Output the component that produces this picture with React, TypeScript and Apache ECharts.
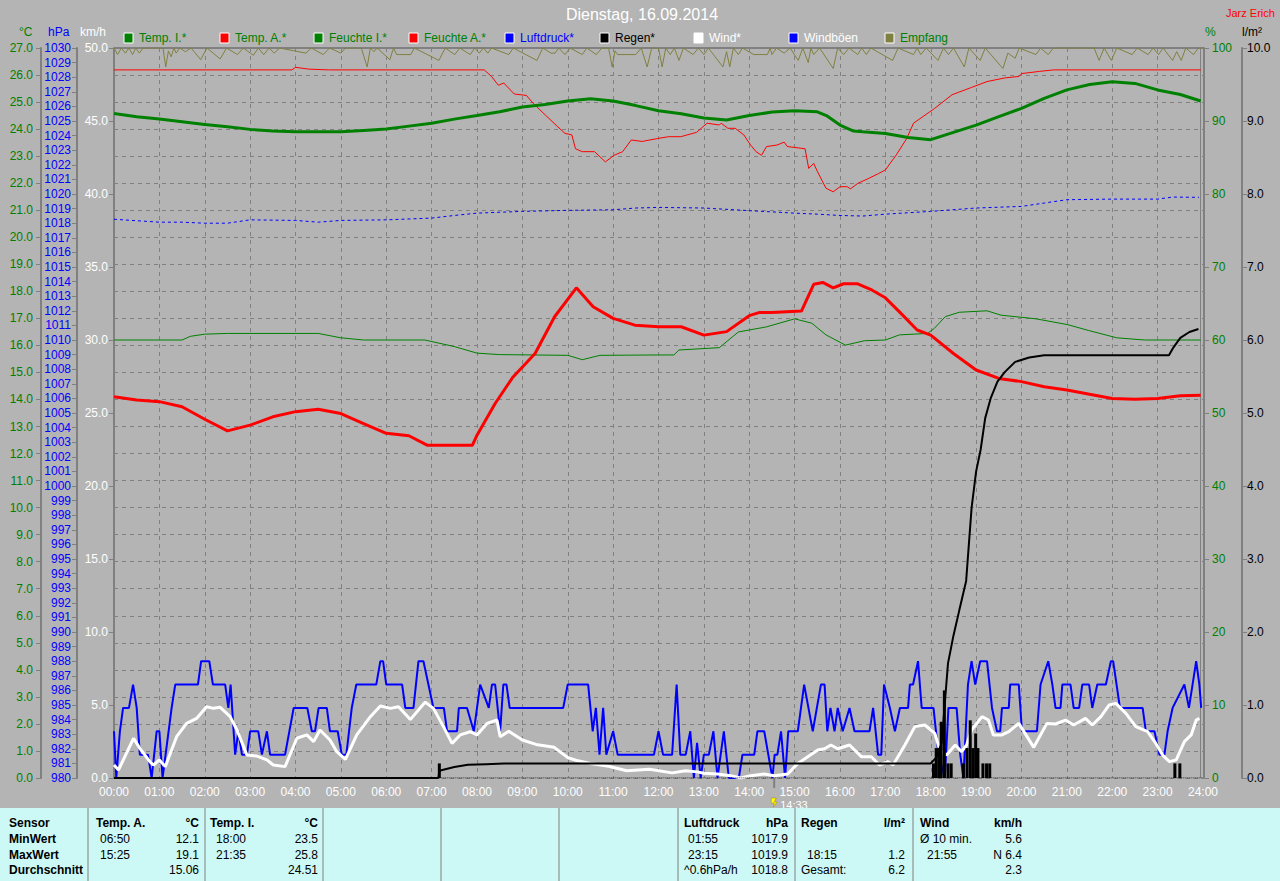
import React, { useEffect, useRef } from "react";
import * as echarts from "echarts";

// ---------- DATA ----------
const hourLabels = [
  "00:00", "01:00", "02:00", "03:00", "04:00", "05:00", "06:00", "07:00", "08:00",
  "09:00", "10:00", "11:00", "12:00", "13:00", "14:00", "15:00", "16:00", "17:00",
  "18:00", "19:00", "20:00", "21:00", "22:00", "23:00", "24:00",
];

const legendNames = ["Temp. I.*", "Temp. A.*", "Feuchte I.*", "Feuchte A.*", "Luftdruck*", "Regen*", "Wind*", "Windböen", "Empfang"];

// Temp. I. (°C)
const tempInnen: number[][] = [
  [0, 24.58], [0.5, 24.46], [1, 24.37], [1.5, 24.27], [2, 24.17], [2.5, 24.09], [3, 23.99], [3.5, 23.93],
  [4, 23.9], [5, 23.9], [5.5, 23.95], [6, 24.0], [6.5, 24.11], [7, 24.22], [7.5, 24.37], [8, 24.5],
  [8.5, 24.64], [9, 24.82], [9.5, 24.91], [10, 25.04], [10.5, 25.12], [11, 25.04], [11.5, 24.87], [12, 24.68],
  [12.5, 24.57], [13, 24.41], [13.5, 24.34], [14, 24.5], [14.5, 24.63], [15, 24.68], [15.5, 24.64],
  [15.7, 24.5], [16, 24.15], [16.3, 23.93], [16.5, 23.9], [17, 23.84], [17.5, 23.69], [18, 23.61],
  [18.5, 23.88], [19, 24.15], [19.5, 24.46], [20, 24.77], [20.5, 25.14], [21, 25.45], [21.5, 25.65],
  [22, 25.75], [22.5, 25.69], [23, 25.45], [23.5, 25.28], [23.95, 25.04],
];

// Temp. A. (°C)
const tempAussen: number[][] = [
  [0, 14.1], [0.5, 13.98], [1, 13.92], [1.5, 13.73], [2, 13.27], [2.5, 12.84], [3, 13.05], [3.5, 13.36],
  [4, 13.55], [4.5, 13.64], [5, 13.48], [5.5, 13.11], [6, 12.75], [6.5, 12.66], [6.9, 12.31], [7.5, 12.31],
  [7.9, 12.31], [8.0, 12.68], [8.4, 13.85], [8.78, 14.8], [9.28, 15.7], [9.71, 17.06], [10.19, 18.13],
  [10.56, 17.43], [11.0, 17.0], [11.48, 16.75], [12.0, 16.69], [12.5, 16.69], [13.0, 16.38], [13.5, 16.51],
  [14.0, 17.1], [14.23, 17.22], [14.5, 17.22], [15.15, 17.27], [15.42, 18.26], [15.62, 18.33], [15.85, 18.13],
  [16.08, 18.28], [16.39, 18.28], [16.7, 18.05], [17.0, 17.76], [17.31, 17.24], [17.7, 16.57], [18.0, 16.38],
  [18.5, 15.7], [19.0, 15.09], [19.5, 14.78], [20, 14.66], [20.5, 14.47], [21, 14.35], [21.5, 14.19],
  [22, 14.04], [22.5, 14.01], [23, 14.04], [23.5, 14.14], [23.95, 14.16],
];

// Feuchte I. (%)
const feuchteInnen: number[][] = [
  [0, 60.0], [1.5, 60.0], [1.68, 60.5], [2, 60.8], [2.5, 60.9], [4.5, 60.9], [5, 60.3], [5.5, 60.0],
  [6.85, 60.0], [7.5, 59.1], [8, 58.2], [8.5, 58.0], [10, 57.9], [10.32, 57.3], [10.71, 57.9], [11.98, 57.95],
  [12.34, 57.95], [12.45, 58.63], [13.34, 58.95], [13.76, 61.1], [14.38, 61.8], [15.0, 62.9], [15.38, 62.3],
  [15.69, 60.7], [16.12, 59.3], [16.54, 59.9], [17.0, 60.0], [17.31, 60.7], [17.93, 60.9], [18.08, 61.6],
  [18.32, 63.2], [18.63, 63.8], [19.24, 64.0], [19.55, 63.4], [20.32, 62.9], [21.02, 62.1], [21.48, 61.3],
  [22.1, 60.3], [22.71, 60.0], [23.95, 60.0],
];

// Feuchte A. (%)
const feuchteAussen: number[][] = [
  [0, 97.0], [3.92, 97.0], [4.0, 97.35], [4.3, 97.1], [4.73, 97.0], [8.16, 97.0], [8.32, 96.1], [8.47, 94.9],
  [8.59, 95.2], [8.82, 93.7], [9.09, 93.5], [9.24, 92.4], [9.51, 90.8], [9.78, 89.2], [9.94, 88.3],
  [10.09, 88.1], [10.17, 86.2], [10.32, 85.8], [10.59, 85.8], [10.83, 84.4], [11.02, 85.3], [11.21, 85.8],
  [11.4, 87.4], [11.64, 87.2], [11.98, 87.6], [12.22, 87.85], [12.49, 87.85], [12.84, 88.45], [13.07, 89.7],
  [13.34, 89.45], [13.38, 89.7], [13.53, 89.0], [13.69, 89.0], [13.88, 88.1], [14.03, 86.7], [14.15, 85.8],
  [14.27, 85.3], [14.38, 86.5], [14.61, 86.7], [14.77, 87.1], [14.84, 86.5], [15.23, 86.2], [15.31, 83.5],
  [15.42, 84.2], [15.5, 83.1], [15.69, 80.8], [15.85, 80.3], [16.0, 81.0], [16.16, 81.0], [16.23, 80.7],
  [16.39, 81.45], [16.62, 82.1], [16.85, 82.8], [17.0, 83.3], [17.24, 85.35], [17.47, 87.6], [17.62, 89.7],
  [18.08, 91.7], [18.47, 93.6], [18.9, 94.6], [19.24, 95.4], [19.63, 95.9], [19.94, 96.1], [20.01, 96.5],
  [20.4, 96.8], [20.71, 97.0], [23.95, 97.0],
];

// Luftdruck (hPa)
const luftdruck: number[][] = [
  [0, 1018.27], [1, 1018.07], [1.5, 1018.07], [2, 1018.0], [2.5, 1018.0], [3, 1018.23], [4, 1018.19],
  [4.5, 1018.07], [5, 1018.19], [6, 1018.23], [7, 1018.35], [7.5, 1018.53], [8, 1018.69], [9, 1018.81],
  [10, 1018.88], [11, 1018.92], [11.5, 1019.04], [12, 1019.08], [13, 1019.04], [14, 1018.86], [15, 1018.69],
  [15.5, 1018.62], [16, 1018.53], [16.5, 1018.49], [17, 1018.62], [18, 1018.81], [19, 1019.04], [20, 1019.15],
  [20.5, 1019.38], [21, 1019.61], [22, 1019.65], [23, 1019.65], [23.33, 1019.79], [23.91, 1019.77],
];

// Regen cumulative (l/m²)
const regenSumme: number[][] = [
  [0, 0], [7.15, 0], [7.17, 0.1], [7.3, 0.12], [7.5, 0.15], [7.8, 0.18], [8.2, 0.19], [8.6, 0.2], [18.0, 0.2],
  [18.12, 0.28], [18.24, 0.48], [18.38, 1.57], [18.5, 1.95], [18.63, 2.3], [18.78, 2.7], [18.9, 3.7],
  [19.0, 4.2], [19.1, 4.5], [19.2, 4.93], [19.32, 5.2], [19.47, 5.43], [19.63, 5.56], [19.86, 5.7],
  [20.17, 5.76], [20.5, 5.79], [23.25, 5.79], [23.35, 5.9], [23.5, 6.03], [23.7, 6.11], [23.9, 6.15],
];
const regenNull: number[][] = [[7.17, 0], [24, 0]];

// Regen bars (l/m²)
const regenBalken: number[][] = [
  [7.17, 0.2],
  [18.06, 0.2], [18.12, 0.41], [18.18, 0.41], [18.23, 0.77], [18.3, 1.2], [18.38, 0.2], [18.45, 0.2],
  [18.72, 0.2], [18.8, 0.41], [18.87, 0.79], [18.93, 0.41], [18.99, 0.61], [19.04, 0.41], [19.15, 0.2],
  [19.23, 0.2], [19.3, 0.2], [23.38, 0.2], [23.49, 0.2],
];

// Wind (km/h)
const wind: number[][] = [
  [0, 0.89], [0.1, 0.55], [0.43, 2.72], [0.57, 2.03], [0.79, 1.12], [0.87, 0.89], [1.0, 1.24], [1.13, 0.78],
  [1.38, 2.83], [1.6, 3.74], [1.82, 4.08], [2.04, 4.88], [2.19, 4.77], [2.34, 4.84], [2.56, 4.2], [2.71, 3.29],
  [2.93, 1.57], [3.15, 1.5], [3.37, 1.24], [3.51, 0.89], [3.77, 0.78], [4.03, 2.72], [4.25, 2.95], [4.4, 2.49],
  [4.54, 3.29], [4.76, 2.6], [4.91, 1.8], [5.1, 1.28], [5.35, 2.95], [5.65, 4.2], [5.87, 4.93], [6.09, 4.77],
  [6.27, 4.88], [6.53, 4.0], [6.86, 5.2], [7.04, 4.77], [7.26, 3.52], [7.45, 2.37], [7.63, 2.95], [7.85, 3.17],
  [8.0, 2.95], [8.22, 3.74], [8.44, 3.97], [8.51, 2.83], [8.7, 3.2], [9.0, 2.6], [9.3, 2.3], [9.7, 2.1],
  [10.0, 1.4], [10.2, 1.2], [10.5, 1.0], [10.9, 0.8], [11.3, 0.5], [11.8, 0.6], [12.3, 0.35], [12.6, 0.5],
  [12.85, 0.42], [13.0, 0.32], [13.3, 0.27], [13.59, 0.16], [13.81, 0.0], [14.03, 0.16], [14.33, 0.27],
  [14.55, 0.16], [14.85, 0.27], [15.07, 1.0], [15.29, 1.46], [15.51, 1.92], [15.66, 2.0], [15.8, 2.26],
  [15.95, 2.0], [16.21, 2.26], [16.47, 1.46], [16.69, 1.46], [16.87, 0.89], [17.06, 1.12], [17.17, 0.89],
  [17.43, 2.26], [17.65, 3.52], [17.87, 3.63], [18.09, 3.06], [18.2, 1.92], [18.35, 1.57], [18.54, 2.26],
  [18.68, 1.8], [18.79, 2.26], [18.9, 3.29], [19.13, 4.2], [19.27, 3.97], [19.38, 2.95], [19.57, 2.95],
  [19.72, 3.17], [19.94, 3.74], [20.27, 2.1], [20.56, 3.74], [20.75, 3.7], [20.97, 3.97], [21.15, 3.63],
  [21.41, 4.08], [21.56, 3.63], [21.75, 4.2], [21.93, 5.0], [22.08, 5.11], [22.3, 4.43], [22.52, 3.52],
  [22.78, 3.17], [22.96, 2.37], [23.11, 1.57], [23.26, 1.12], [23.41, 1.24], [23.59, 2.49], [23.74, 2.95],
  [23.85, 3.97], [23.92, 4.08],
];

// Windböen (km/h)
const windBoeen: number[][] = [
  [0, 3.2], [0.05, 0], [0.13, 3.2], [0.2, 4.8], [0.33, 4.8], [0.42, 6.4], [0.5, 4.8], [0.57, 1.6], [0.75, 1.6],
  [0.83, 0], [0.94, 3.2], [1.0, 3.2], [1.07, 0], [1.27, 4.8], [1.35, 6.4], [1.85, 6.4], [1.92, 8.0], [2.1, 8.0],
  [2.18, 6.4], [2.45, 6.4], [2.52, 4.8], [2.57, 6.4], [2.67, 1.6], [2.74, 3.2], [2.82, 1.6], [2.93, 1.6],
  [3.0, 3.2], [3.18, 3.2], [3.26, 1.6], [3.37, 3.2], [3.44, 1.6], [3.77, 1.6], [3.96, 4.8], [4.26, 4.8],
  [4.36, 3.2], [4.43, 3.2], [4.51, 4.8], [4.69, 4.8], [4.76, 3.2], [4.93, 3.2], [5.02, 1.6], [5.12, 1.6],
  [5.24, 4.8], [5.34, 6.4], [5.78, 6.4], [5.87, 8.0], [5.93, 8.0], [6.0, 6.4], [6.35, 6.4], [6.42, 4.8],
  [6.6, 4.8], [6.71, 8.0], [6.82, 8.0], [7.04, 4.8], [7.27, 4.8], [7.34, 3.2], [7.56, 3.2], [7.6, 4.8],
  [7.78, 4.8], [7.93, 3.2], [8.07, 6.4], [8.26, 4.8], [8.33, 6.4], [8.4, 6.4], [8.51, 3.2],
  [8.58, 6.4], [8.65, 6.4], [8.72, 4.8], [9.9, 4.8], [10.0, 6.4], [10.45, 6.4], [10.55, 3.2], [10.62, 4.8],
  [10.7, 1.6], [10.78, 4.8], [10.85, 1.6], [11.0, 3.2], [11.1, 1.6], [11.9, 1.6], [12.0, 3.2], [12.1, 1.6],
  [12.3, 1.6], [12.4, 6.4], [12.48, 1.6], [12.6, 1.6], [12.7, 3.2], [12.78, 0], [12.85, 2.4], [12.93, 0],
  [13.0, 1.6], [13.11, 1.6],
  [13.21, 3.2], [13.3, 0], [13.44, 3.2], [13.55, 0], [13.77, 0], [13.85, 1.6], [14.11, 1.6], [14.18, 3.2],
  [14.33, 3.2], [14.51, 0], [14.56, 1.6], [14.62, 1.6], [14.7, 3.2], [14.79, 0], [14.86, 3.2], [15.07, 3.2],
  [15.21, 6.4], [15.4, 3.2], [15.58, 6.4], [15.66, 6.4], [15.72, 3.2], [15.79, 4.8], [15.88, 3.2],
  [15.95, 4.8], [16.06, 3.2], [16.21, 4.8], [16.32, 3.2], [16.65, 3.2], [16.73, 4.8], [16.84, 1.6],
  [16.91, 1.6], [16.97, 6.4], [17.1, 4.8], [17.21, 3.2], [17.32, 4.8], [17.5, 4.8], [17.54, 6.4],
  [17.61, 6.4], [17.72, 8.0], [17.8, 4.8], [18.06, 4.8], [18.17, 1.6], [18.31, 0], [18.39, 4.8],
  [18.57, 4.8], [18.65, 1.6], [18.72, 0], [18.82, 6.4], [18.9, 8.0], [18.98, 6.4], [19.09, 8.0],
  [19.24, 8.0], [19.35, 4.8], [19.46, 3.2], [19.53, 3.2], [19.57, 4.8], [19.72, 4.8], [19.75, 6.4],
  [19.94, 6.4], [20.01, 3.2], [20.34, 3.2], [20.42, 6.4], [20.59, 8.0], [20.68, 6.4], [20.75, 4.8],
  [20.86, 4.8], [20.9, 6.4], [21.08, 6.4], [21.15, 4.8], [21.27, 4.8], [21.34, 6.4], [21.49, 6.4],
  [21.56, 4.8], [21.67, 6.4], [21.86, 6.4], [21.97, 8.0], [22.02, 8.0], [22.17, 4.8], [22.67, 4.8],
  [22.74, 3.2], [22.93, 3.2], [23.04, 1.6], [23.15, 1.6], [23.22, 3.2], [23.33, 4.8], [23.59, 6.4],
  [23.69, 4.8], [23.77, 6.4], [23.85, 8.0], [23.92, 6.4], [23.96, 4.8],
];

// Empfang (%)
const empfang: number[][] = [
  [0, 100], [0.08, 99.1], [0.16, 100], [0.25, 99.3], [0.33, 100], [0.41, 99.1], [0.48, 100], [0.56, 99.3],
  [0.64, 100], [1.08, 100], [1.14, 97.4], [1.2, 99.6], [1.26, 98.8], [1.32, 100], [1.37, 99.3], [1.45, 100],
  [1.57, 99.5], [1.7, 100], [1.91, 98.4], [2.05, 100], [2.34, 98.5], [2.48, 100], [2.72, 99.1], [2.85, 100],
  [3.07, 99.0], [3.18, 100], [3.3, 99.1], [3.42, 100], [3.53, 99.3], [3.65, 100], [4.23, 99.3], [4.35, 100],
  [4.61, 99.1], [4.75, 100], [5.0, 99.3], [5.1, 100], [5.45, 100], [5.58, 97.4], [5.65, 100], [5.73, 99.5],
  [5.8, 100], [6.08, 98.4], [6.16, 100], [6.23, 99.1], [6.3, 99.1], [6.45, 99.1], [6.54, 99.1], [6.62, 100],
  [7.16, 98.3], [7.3, 100], [7.51, 99.1], [7.62, 100], [7.85, 99.1], [7.95, 100], [8.05, 99.3], [8.14, 100],
  [8.24, 99.3], [8.32, 100], [8.7, 99.1], [8.8, 100], [9.32, 98.3], [9.45, 100], [9.63, 99.3], [9.72, 99.3],
  [9.8, 100], [9.94, 99.1], [10.05, 100], [10.32, 99.1], [10.42, 100], [10.63, 99.1], [10.75, 100],
  [10.9, 100], [10.98, 97.4], [11.04, 99.6], [11.1, 99.1], [11.5, 99.1], [11.62, 100], [11.75, 97.4],
  [11.85, 100], [12.0, 100], [12.08, 97.4], [12.16, 100], [12.26, 99.1], [12.35, 100], [12.45, 98.3],
  [12.55, 100], [12.76, 99.1], [12.88, 100], [13.0, 99.1], [13.1, 100], [13.42, 97.4], [13.5, 99.5],
  [13.57, 97.4], [13.65, 100], [13.76, 99.1], [13.85, 100], [14.1, 99.1], [14.4, 99.1], [14.46, 100],
  [14.5, 99.1], [14.6, 100], [14.77, 99.3], [14.9, 100], [15.08, 98.3], [15.18, 100], [15.3, 98.0],
  [15.36, 100], [15.42, 99.1], [15.55, 100], [15.85, 97.2], [15.95, 100], [16.08, 99.1], [16.2, 100],
  [16.39, 99.1], [16.48, 100], [16.58, 99.1], [16.68, 100], [17.16, 98.3], [17.28, 100], [17.62, 99.1],
  [17.7, 100], [17.78, 99.1], [17.9, 100], [18.16, 98.3], [18.28, 100], [18.39, 99.1], [18.5, 100],
  [18.74, 97.4], [18.84, 100], [19.09, 98.3], [19.2, 100], [19.59, 97.2], [19.7, 99.3], [19.86, 98.6],
  [19.95, 100], [20.32, 99.1], [20.42, 100], [20.59, 99.1], [20.7, 100], [21.6, 100], [21.71, 98.3],
  [21.82, 100], [21.98, 98.3], [22.1, 100], [22.44, 99.1], [22.55, 100], [22.79, 99.1], [22.9, 100],
  [23.02, 99.1], [23.12, 100], [23.33, 98.3], [23.42, 99.5], [23.52, 98.3], [23.62, 100], [23.79, 99.1],
  [23.9, 100], [24, 100],
];

// Table content
const sensorLabels = ["Sensor", "MinWert", "MaxWert", "Durchschnitt"];
const tableColumns = [
  { header: ["Temp. A.", "°C"], rows: [["06:50", "12.1"], ["15:25", "19.1"], ["", "15.06"]] },
  { header: ["Temp. I.", "°C"], rows: [["18:00", "23.5"], ["21:35", "25.8"], ["", "24.51"]] },
  { header: ["Luftdruck", "hPa"], rows: [["01:55", "1017.9"], ["23:15", "1019.9"], ["^0.6hPa/h", "1018.8"]] },
  { header: ["Regen", "l/m²"], rows: [["", ""], ["18:15", "1.2"], ["Gesamt:", "6.2"]] },
  { header: ["Wind", "km/h"], rows: [["Ø 10 min.", "5.6"], ["21:55", "N 6.4"], ["", "2.3"]] },
];
const titleText = "Dienstag, 16.09.2014";
const authorText = "Jarz Erich";
const markerText = "14:33";
const markerHour = 14.55;

// ---------- LAYOUT ----------
const W = 1280;
const H = 881;
const PL = 114;
const PR = 1203;
const PT = 48;
const PB = 778;
const FONT = '"Liberation Sans", Arial, sans-serif';
const BG = "#b4b4b4";
const GRID = "#808080";

const legendColors = ["#008000", "#ff0000", "#008000", "#ff0000", "#0000ff", "#000000", "#ffffff", "#0000ff", "#808040"];
const legendTextColors = ["#008000", "#008000", "#008000", "#008000", "#0000ff", "#000000", "#ffffff", "#ffffff", "#008000"];
const legendX = [124, 220, 314, 409, 505, 600, 694, 789, 885];
const tableColX = [[96, 199, 100], [210, 318, 216], [684, 788, 688], [801, 905, 807], [920, 1022, 927]];
const tableSeparators = [88, 205, 323, 441, 559, 678, 795, 913];
const rowY = [823, 839, 855, 870];

function txt(x: number, y: number, text: string, fill: string, size = 12, align = "left", weight = "normal") {
  return {
    type: "text",
    x,
    y,
    silent: true,
    style: {
      text,
      fill,
      fontSize: size,
      fontFamily: FONT,
      fontWeight: weight,
      textAlign: align,
      textVerticalAlign: "middle",
    },
  };
}

export default function App() {
  const ref = useRef<HTMLDivElement>(null);

  useEffect(() => {
    if (!ref.current) return;
    const chart = echarts.init(ref.current, undefined, { renderer: "svg" });
    const xOf = (h: number) => PL + ((PR - PL) * h) / 24;

    const graphics: any[] = [];
    // title
    graphics.push(txt(642, 14, titleText, "#ffffff", 16, "center"));
    graphics.push(txt(1226, 13, authorText, "#ff0000", 11));
    // axis unit headers
    graphics.push(txt(19, 32, "°C", "#008000", 12));
    graphics.push(txt(48, 32, "hPa", "#0000ff", 12));
    graphics.push(txt(80, 32, "km/h", "#ffffff", 12));
    graphics.push(txt(1205, 32, "%", "#008000", 12));
    graphics.push(txt(1242, 32, "l/m²", "#000000", 12));
    // legend
    legendNames.forEach((n, i) => {
      graphics.push({
        type: "rect",
        shape: { x: legendX[i], y: 33, width: 9, height: 10 },
        style: { fill: legendColors[i], stroke: "#ffffff", lineWidth: 1 },
        silent: true,
      });
      graphics.push(txt(legendX[i] + 15, 38, n, legendTextColors[i], 12));
    });
    // frame
    graphics.push({ type: "line", shape: { x1: PL, y1: PT, x2: PR + 1, y2: PT }, style: { stroke: GRID, lineWidth: 2 }, silent: true });
    graphics.push({ type: "line", shape: { x1: PR - 2.5, y1: PT, x2: PR - 2.5, y2: PB }, style: { stroke: GRID, lineWidth: 1 }, silent: true });
    // time marker
    const mx = xOf(markerHour);
    graphics.push({ type: "line", shape: { x1: mx, y1: PB, x2: mx, y2: PB + 10 }, style: { stroke: GRID, lineWidth: 2 }, silent: true });
    graphics.push({
      type: "polygon",
      shape: { points: [[mx - 3, 798], [mx + 2, 798], [mx, 802], [mx + 3, 802], [mx - 1, 807], [mx, 803], [mx - 3, 803]] },
      style: { fill: "#ffff00", stroke: "#a08000", lineWidth: 0.5 },
      silent: true,
    });
    graphics.push(txt(mx + 6, 805, markerText, "#ffffff", 11));
    // table
    graphics.push({ type: "rect", shape: { x: 0, y: 808, width: W, height: H - 808 }, style: { fill: "#ccf8f6" }, silent: true });
    tableSeparators.forEach((sx) => {
      graphics.push({ type: "line", shape: { x1: sx, y1: 808, x2: sx, y2: H }, style: { stroke: "#808080", lineWidth: 1 }, silent: true });
    });
    sensorLabels.forEach((s, i) => graphics.push(txt(9, rowY[i], s, "#000000", 12, "left", "bold")));
    tableColumns.forEach((col, ci) => {
      const [xl, xr, xt] = tableColX[ci];
      graphics.push(txt(xl, rowY[0], col.header[0], "#000000", 12, "left", "bold"));
      graphics.push(txt(xr, rowY[0], col.header[1], "#000000", 12, "right", "bold"));
      col.rows.forEach((r, ri) => {
        if (r[0]) {
          const isLabel = r[0].indexOf(":") < 0 || r[0].length > 5;
          graphics.push(txt(isLabel ? xl : xt, rowY[ri + 1], r[0], "#000000", 12));
        }
        if (r[1]) graphics.push(txt(xr, rowY[ri + 1], r[1], "#000000", 12, "right"));
      });
    });

    const axisBase = () => ({
      axisLine: { show: true, lineStyle: { color: GRID, width: 2 } },
      axisTick: { show: true, length: 5, lineStyle: { color: GRID } },
      splitLine: { show: false },
    });

    const option: any = {
      animation: false,
      backgroundColor: BG,
      grid: { left: PL, right: W - PR, top: PT, bottom: H - PB, containLabel: false },
      xAxis: {
        type: "value",
        min: 0,
        max: 24,
        interval: 1,
        axisLine: { show: false },
        axisTick: { show: false },
        axisLabel: {
          color: "#ffffff",
          fontSize: 12,
          fontFamily: FONT,
          margin: 8,
          formatter: (v: number) => hourLabels[Math.round(v)],
        },
        splitLine: { show: true, lineStyle: { color: GRID, type: [4, 4], width: 1 } },
      },
      yAxis: [
        {
          type: "value", min: 0, max: 50, interval: 5, position: "left", offset: 0,
          ...axisBase(),
          axisLabel: { color: "#ffffff", fontSize: 12, fontFamily: FONT, margin: 6, formatter: (v: number) => v.toFixed(1) },
        },
        {
          type: "value", min: 0, max: 27, interval: 1, position: "left", offset: PL - 41,
          ...axisBase(),
          axisLabel: { color: "#008000", fontSize: 12, fontFamily: FONT, margin: 8, formatter: (v: number) => v.toFixed(1) },
          splitLine: { show: true, lineStyle: { color: GRID, type: [4, 4], width: 1 } },
        },
        {
          type: "value", min: 980, max: 1030, interval: 1, position: "left", offset: PL - 77,
          ...axisBase(),
          axisLabel: { color: "#0000ff", fontSize: 12, fontFamily: FONT, margin: 6, formatter: (v: number) => String(Math.round(v)) },
        },
        {
          type: "value", min: 0, max: 100, interval: 10, position: "right", offset: 1,
          ...axisBase(),
          axisLabel: { color: "#008000", fontSize: 12, fontFamily: FONT, margin: 8, formatter: (v: number) => String(Math.round(v)) },
        },
        {
          type: "value", min: 0, max: 10, interval: 1, position: "right", offset: 1242 - PR,
          ...axisBase(),
          axisLabel: { color: "#000000", fontSize: 12, fontFamily: FONT, margin: 5, formatter: (v: number) => v.toFixed(1) },
        },
      ],
      series: [
        { name: "Empfang", type: "line", yAxisIndex: 3, data: empfang, showSymbol: false, lineStyle: { color: "#808040", width: 1 }, z: 2 },
        { name: "Feuchte A.*", type: "line", yAxisIndex: 3, data: feuchteAussen, showSymbol: false, lineStyle: { color: "#ff0000", width: 1 }, z: 3 },
        { name: "Feuchte I.*", type: "line", yAxisIndex: 3, data: feuchteInnen, showSymbol: false, lineStyle: { color: "#008000", width: 1 }, z: 3 },
        { name: "Luftdruck*", type: "line", yAxisIndex: 2, data: luftdruck, showSymbol: false, lineStyle: { color: "#0000ff", width: 1, type: [3, 3] }, z: 3 },
        { name: "Temp. I.*", type: "line", yAxisIndex: 1, data: tempInnen, showSymbol: false, lineStyle: { color: "#008000", width: 3 }, z: 4 },
        { name: "Temp. A.*", type: "line", yAxisIndex: 1, data: tempAussen, showSymbol: false, lineStyle: { color: "#ff0000", width: 3 }, z: 4 },
        { name: "Windböen", type: "line", yAxisIndex: 0, data: windBoeen, showSymbol: false, lineStyle: { color: "#0000ff", width: 2 }, z: 5 },
        { name: "Wind*", type: "line", yAxisIndex: 0, data: wind, showSymbol: false, lineStyle: { color: "#ffffff", width: 3 }, z: 5 },
        { name: "RegenNull", type: "line", yAxisIndex: 4, data: regenNull, showSymbol: false, lineStyle: { color: "#000000", width: 1, type: "dotted" }, z: 6 },
        { name: "RegenBalken", type: "bar", yAxisIndex: 4, data: regenBalken, barWidth: 3, itemStyle: { color: "#000000" }, z: 6 },
        { name: "Regen*", type: "line", yAxisIndex: 4, data: regenSumme, showSymbol: false, lineStyle: { color: "#000000", width: 2 }, z: 7 },
      ],
      graphic: graphics,
    };
    chart.setOption(option);
    return () => chart.dispose();
  }, []);

  return (
    <div
      ref={ref}
      style={{ position: "absolute", left: 0, top: 0, width: W, height: H, overflow: "hidden" }}
    />
  );
}
